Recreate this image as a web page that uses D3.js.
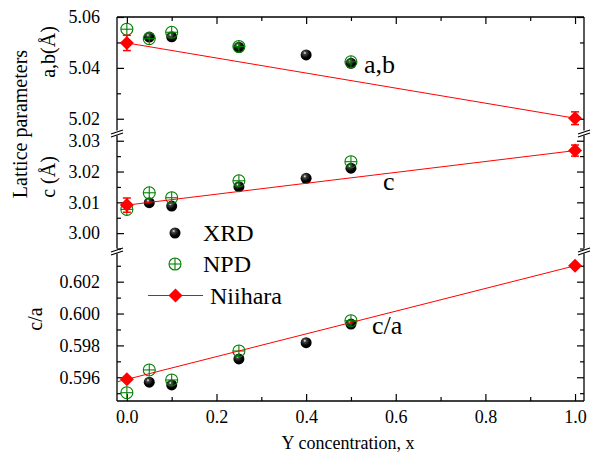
<!DOCTYPE html>
<html>
<head>
<meta charset="utf-8">
<script src="https://cdn.jsdelivr.net/npm/d3@7"></script>
<style>
  body { margin: 0; background: #fff; }
  svg text { font-family: "Liberation Serif", "Times New Roman", serif; }
</style>
</head>
<body>
<script>
// data
var xXRD = [0.05, 0.1, 0.25, 0.4, 0.5];
var abXRD = [5.0521, 5.0522, 5.0481, 5.0451, 5.0418];
var cXRD = [3.0099, 3.0088, 3.0151, 3.0178, 3.0211];
var caXRD = [0.59569, 0.59552, 0.59715, 0.59817, 0.59934];

var xNPD = [0, 0.05, 0.1, 0.25, 0.5];
var abNPD = [5.0552, 5.0515, 5.0540, 5.0484, 5.0424];
var cNPD = [3.0077, 3.0131, 3.0115, 3.0170, 3.0232];
var caNPD = [0.59503, 0.59646, 0.59583, 0.59765, 0.59955];

var xNii = [0, 1];
var abNii = [5.0498, 5.0202];
var abNiiErr = [0.003, 0.0025];
var cNii = [3.0091, 3.0268];
var cNiiErr = [0.0023, 0.0018];
var caNii = [0.59587, 0.6030];

var xTicks = [0, 0.2, 0.4, 0.6, 0.8, 1.0];
var xMinor = [0.1, 0.3, 0.5, 0.7, 0.9];
var abTicks = [5.02, 5.04, 5.06];
var abMinor = [5.03, 5.05];
var cTicks = [3.00, 3.01, 3.02, 3.03];
var cMinor = [2.995, 3.005, 3.015, 3.025];
var caTicks = [0.596, 0.598, 0.600, 0.602];
var caMinor = [0.595, 0.597, 0.599, 0.601, 0.603];

var width = 595, height = 457;
var plotL = 117, plotR = 584, plotT = 17, plotB = 401;
var brk1 = 133.5, brk2 = 251.5;

var svg = d3.select('body').append('svg')
  .attr('width', width)
  .attr('height', height);

var x = d3.scaleLinear().domain([-0.022, 1.02]).range([plotL, plotR]);
var yAB = d3.scaleLinear().domain([5.0142, 5.06]).range([brk1, plotT]);
var yC = d3.scaleLinear().domain([2.99404, 3.03186]).range([brk2, brk1 + 1.5]);
var yCA = d3.scaleLinear().domain([0.59451, 0.6038]).range([plotB, brk2 + 1.5]);

var panels = [
  {y: yAB, ticks: abTicks, minor: abMinor, fmt: d3.format('.2f')},
  {y: yC, ticks: cTicks, minor: cMinor, fmt: d3.format('.2f')},
  {y: yCA, ticks: caTicks, minor: caMinor, fmt: d3.format('.3f')}
];

function styleAxis(g) {
  g.select('.domain').remove();
  g.selectAll('line').attr('stroke', '#000').attr('stroke-width', 1.2);
  g.selectAll('text').attr('font-size', 18).attr('fill', '#000')
    .style('font-family', '"Liberation Serif", serif');
}

// axes
panels.forEach(function(p) {
  svg.append('g')
    .attr('transform', `translate(${plotL},0)`)
    .call(d3.axisLeft(p.y).tickValues(p.ticks).tickSize(-7).tickPadding(17).tickFormat(p.fmt))
    .call(styleAxis);
  svg.append('g')
    .attr('transform', `translate(${plotL},0)`)
    .call(d3.axisLeft(p.y).tickValues(p.minor).tickSize(-4).tickFormat(''))
    .call(styleAxis);
  svg.append('g')
    .attr('transform', `translate(${plotR},0)`)
    .call(d3.axisRight(p.y).tickValues(p.ticks).tickSize(-7).tickFormat(''))
    .call(styleAxis);
  svg.append('g')
    .attr('transform', `translate(${plotR},0)`)
    .call(d3.axisRight(p.y).tickValues(p.minor).tickSize(-4).tickFormat(''))
    .call(styleAxis);
});

svg.append('g')
  .attr('transform', `translate(0,${plotB})`)
  .call(d3.axisBottom(x).tickValues(xTicks).tickSize(-7).tickPadding(9).tickFormat(d3.format('.1f')))
  .call(styleAxis);
svg.append('g')
  .attr('transform', `translate(0,${plotB})`)
  .call(d3.axisBottom(x).tickValues(xMinor).tickSize(-4).tickFormat(''))
  .call(styleAxis);
svg.append('g')
  .attr('transform', `translate(0,${plotT})`)
  .call(d3.axisTop(x).tickValues(xTicks).tickSize(-7).tickFormat(''))
  .call(styleAxis);
svg.append('g')
  .attr('transform', `translate(0,${plotT})`)
  .call(d3.axisTop(x).tickValues(xMinor).tickSize(-4).tickFormat(''))
  .call(styleAxis);

// frame with axis breaks
var frame = svg.append('g').attr('stroke', '#000').attr('stroke-width', 1.3).attr('fill', 'none');
frame.append('line').attr('x1', plotL).attr('x2', plotR).attr('y1', plotT).attr('y2', plotT);
frame.append('line').attr('x1', plotL).attr('x2', plotR).attr('y1', plotB).attr('y2', plotB);
[plotL, plotR].forEach(function(xx) {
  frame.append('line').attr('x1', xx).attr('x2', xx).attr('y1', plotT).attr('y2', brk1 - 3);
  frame.append('line').attr('x1', xx).attr('x2', xx).attr('y1', brk1 + 2).attr('y2', brk2 - 3);
  frame.append('line').attr('x1', xx).attr('x2', xx).attr('y1', brk2 + 2).attr('y2', plotB);
  [brk1, brk2].forEach(function(b) {
    frame.append('line').attr('x1', xx - 6).attr('y1', b + 0.5).attr('x2', xx + 6).attr('y2', b - 3.5);
    frame.append('line').attr('x1', xx - 6).attr('y1', b + 3.5).attr('x2', xx + 6).attr('y2', b - 0.5);
  });
});

// sphere gradient
var defs = svg.append('defs');
var grad = defs.append('radialGradient').attr('id', 'ball')
  .attr('cx', '38%').attr('cy', '32%').attr('r', '65%');
grad.append('stop').attr('offset', '0%').attr('stop-color', '#ffffff');
grad.append('stop').attr('offset', '22%').attr('stop-color', '#444444');
grad.append('stop').attr('offset', '70%').attr('stop-color', '#000000');

function drawXRD(g, xs, ys, y) {
  g.selectAll(null).data(xs).enter().append('circle')
    .attr('cx', function(d) { return x(d); })
    .attr('cy', function(d, i) { return y(ys[i]); })
    .attr('r', 5.5)
    .attr('fill', 'url(#ball)');
}

function npdMarker(g, cx, cy) {
  var m = g.append('g').attr('stroke', '#008000').attr('stroke-width', 1.1).attr('fill', 'none');
  m.append('circle').attr('cx', cx).attr('cy', cy).attr('r', 6);
  m.append('line').attr('x1', cx - 6).attr('x2', cx + 6).attr('y1', cy).attr('y2', cy);
  m.append('line').attr('x1', cx).attr('x2', cx).attr('y1', cy - 6).attr('y2', cy + 6);
}

function drawNPD(g, xs, ys, y) {
  xs.forEach(function(d, i) { npdMarker(g, x(d), y(ys[i])); });
}

function diamond(g, cx, cy) {
  g.append('path')
    .attr('d', `M${cx},${cy - 7}L${cx + 7},${cy}L${cx},${cy + 7}L${cx - 7},${cy}Z`)
    .attr('fill', '#ff0000');
}

function drawNii(g, ys, errs, y, extend) {
  var x0 = xNii[0], y0 = ys[0];
  if (extend) {
    // line runs on to the left axis
    var slope = (ys[1] - ys[0]) / (xNii[1] - xNii[0]);
    x0 = x.domain()[0];
    y0 = ys[0] + slope * (x0 - xNii[0]);
  }
  g.append('line')
    .attr('x1', x(x0)).attr('y1', y(y0))
    .attr('x2', x(xNii[1])).attr('y2', y(ys[1]))
    .attr('stroke', '#ff0000').attr('stroke-width', 1);
  xNii.forEach(function(d, i) {
    var cx = x(d), cy = y(ys[i]);
    if (errs) {
      var e1 = y(ys[i] + errs[i]), e2 = y(ys[i] - errs[i]);
      g.append('line').attr('x1', cx).attr('x2', cx).attr('y1', e1).attr('y2', e2)
        .attr('stroke', '#ff0000').attr('stroke-width', 1.5);
      g.append('line').attr('x1', cx - 4).attr('x2', cx + 4).attr('y1', e1).attr('y2', e1)
        .attr('stroke', '#ff0000').attr('stroke-width', 1.5);
      g.append('line').attr('x1', cx - 4).attr('x2', cx + 4).attr('y1', e2).attr('y2', e2)
        .attr('stroke', '#ff0000').attr('stroke-width', 1.5);
    }
    diamond(g, cx, cy);
  });
}

var marks = svg.append('g');
drawXRD(marks, xXRD, abXRD, yAB);
drawXRD(marks, xXRD, cXRD, yC);
drawXRD(marks, xXRD, caXRD, yCA);
drawNPD(marks, xNPD, abNPD, yAB);
drawNPD(marks, xNPD, cNPD, yC);
drawNPD(marks, xNPD, caNPD, yCA);
drawNii(marks, abNii, abNiiErr, yAB, false);
drawNii(marks, cNii, cNiiErr, yC, false);
drawNii(marks, caNii, null, yCA, true);

// panel labels
svg.append('text').attr('x', 364).attr('y', 73).attr('font-size', 26).text('a,b');
svg.append('text').attr('x', 383).attr('y', 190).attr('font-size', 26).text('c');
svg.append('text').attr('x', 372).attr('y', 334).attr('font-size', 26).text('c/a');

// legend
var lg = svg.append('g');
lg.append('circle').attr('cx', 175).attr('cy', 233).attr('r', 5.5).attr('fill', 'url(#ball)');
lg.append('text').attr('x', 203).attr('y', 241).attr('font-size', 24).text('XRD');
npdMarker(lg, 175, 264);
lg.append('text').attr('x', 203).attr('y', 272).attr('font-size', 24).text('NPD');
lg.append('line').attr('x1', 148).attr('x2', 203).attr('y1', 295.5).attr('y2', 295.5)
  .attr('stroke', '#ff0000').attr('stroke-width', 1);
diamond(lg, 175.5, 295.5);
lg.append('text').attr('x', 210).attr('y', 304).attr('font-size', 24).text('Niihara');

// axis titles
svg.append('text').attr('transform', 'translate(27,124) rotate(-90)')
  .attr('text-anchor', 'middle').attr('font-size', 20).text('Lattice parameters');
svg.append('text').attr('transform', 'translate(55,52) rotate(-90)')
  .attr('text-anchor', 'middle').attr('font-size', 20).text('a,b(Å)');
svg.append('text').attr('transform', 'translate(55,177) rotate(-90)')
  .attr('text-anchor', 'middle').attr('font-size', 20).text('c (Å)');
svg.append('text').attr('transform', 'translate(42,319) rotate(-90)')
  .attr('text-anchor', 'middle').attr('font-size', 20).text('c/a');
svg.append('text').attr('x', 348).attr('y', 449)
  .attr('text-anchor', 'middle').attr('font-size', 18).text('Y concentration, x');
</script>
</body>
</html>
